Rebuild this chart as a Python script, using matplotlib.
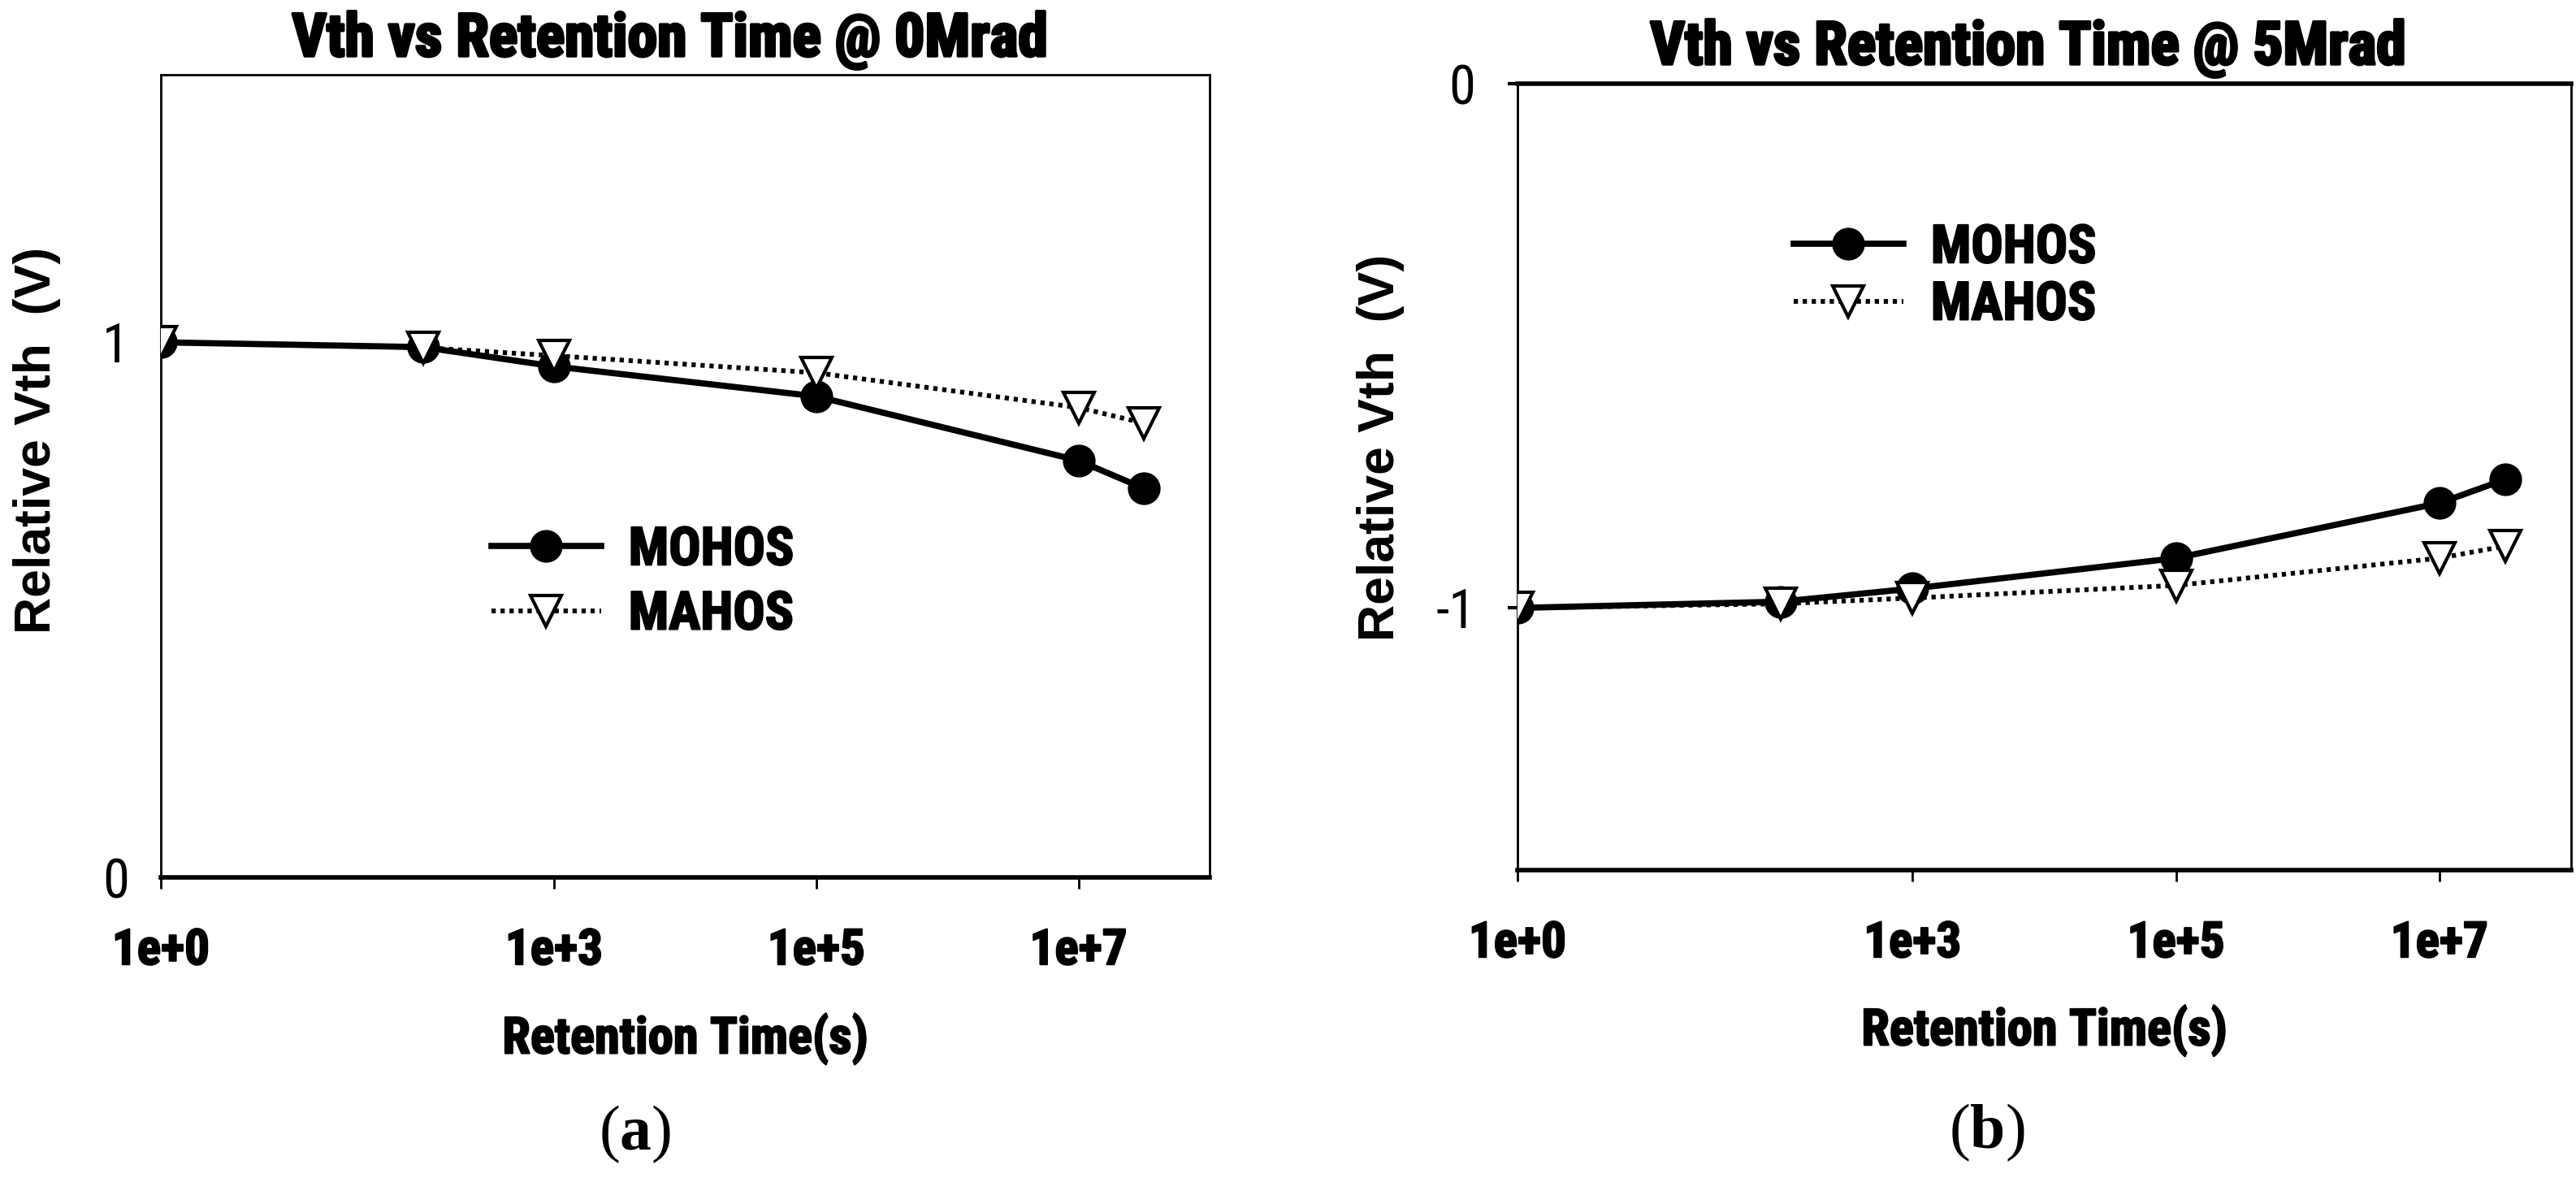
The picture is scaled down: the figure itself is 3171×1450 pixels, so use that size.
import matplotlib
matplotlib.use('Agg')
import matplotlib.pyplot as plt
import matplotlib.patheffects as pe

# datos
tiempo = [1, 1e2, 1e3, 1e5, 1e7, 3.15e7]
mohos_0 = [1.0, 0.991, 0.955, 0.899, 0.779, 0.727]
mahos_0 = [1.0, 0.99, 0.975, 0.943, 0.878, 0.849]
mohos_5 = [-1.0, -0.988, -0.963, -0.905, -0.800, -0.755]
mahos_5 = [-1.0, -0.992, -0.981, -0.957, -0.905, -0.882]

xticks = [1, 1e3, 1e5, 1e7]
xlabels = ['1e+0', '1e+3', '1e+5', '1e+7']

W, H = 3171, 1450
NARROW = ['Roboto Condensed', 'DejaVu Sans']
grueso = [pe.withStroke(linewidth=1.5, foreground='black')]

plt.rcParams['mathtext.fontset'] = 'custom'
plt.rcParams['mathtext.rm'] = 'Liberation Serif'
plt.rcParams['mathtext.bf'] = 'Liberation Serif:bold'

fig = plt.figure(figsize=(W / 100, H / 100), dpi=100)


def caja(x0, y0, x1, y1):
    # pasa pixeles de la imagen a coordenadas de figura
    return [x0 / W, 1 - y1 / H, (x1 - x0) / W, (y1 - y0) / H]


def panel(rect, mohos, mahos, ylim, yticks, ylabels, leg_xy, espacio, ylab_xy, xlab_xy):
    ax = fig.add_axes(rect)
    ax.plot(tiempo, mohos, '-', color='black', lw=5.5, marker='o', ms=28,
            mfc='black', mec='black', label='MOHOS', zorder=3)
    ax.plot(tiempo, mahos, color='black', lw=4.2, ls=(0, (0.9, 1)), marker='v', ms=28,
            mfc='white', mec='black', mew=3, label='MAHOS', zorder=4)
    ax.set_xscale('log')
    ax.set_xlim(1, 1e8)
    ax.set_ylim(*ylim)
    ax.set_xticks(xticks)
    ax.set_xticklabels(xlabels, family=NARROW, fontweight='bold', fontsize=44,
                       path_effects=grueso)
    ax.xaxis.set_minor_locator(matplotlib.ticker.NullLocator())
    ax.set_yticks(yticks)
    ax.set_yticklabels(ylabels, family=NARROW, fontsize=48)
    ax.tick_params(axis='x', direction='out', length=10, width=2, pad=34)
    ax.tick_params(axis='y', direction='out', length=9, width=3, pad=28)
    for s in ['left', 'right', 'top', 'bottom']:
        ax.spines[s].set_linewidth(2)
    ax.spines['bottom'].set_linewidth(4)
    ax.set_ylabel('Relative Vth  (V)', fontfamily='Liberation Sans', fontweight='bold', fontsize=45)
    ax.yaxis.set_label_coords(*ylab_xy)
    ax.yaxis.label.set_va('center')
    ax.set_xlabel('Retention Time(s)', family=NARROW, fontweight='bold', fontsize=45,
                  path_effects=grueso)
    ax.xaxis.set_label_coords(*xlab_xy)
    ax.xaxis.label.set_va('center')
    leg = ax.legend(loc='upper left', bbox_to_anchor=leg_xy, frameon=False,
                    prop={'family': NARROW, 'weight': 'bold', 'size': 47},
                    handlelength=2.07, handletextpad=0.52, labelspacing=espacio,
                    borderpad=0, borderaxespad=0)
    for t in leg.get_texts():
        t.set_path_effects(grueso)
    return ax


ax1 = panel(caja(198, 92, 1489, 1080), mohos_0, mahos_0, (0, 1.5), [0, 1], ['0', '1'],
            (0.315, 0.438), 0.28, (-0.118, 0.545), (0.5, -0.201))
ax1.tick_params(axis='y', length=0)

ax2 = panel(caja(1868, 103, 3165, 1071), mohos_5, mahos_5, (-1.5, 0), [-1, 0], ['-1', '0'],
            (0.262, 0.822), 0.14, (-0.130, 0.537), (0.5, -0.204))
ax2.spines['top'].set_linewidth(4)

titulo = [pe.withStroke(linewidth=2.5, foreground='black')]
fig.text(825 / W, 1 - 69 / H, 'Vth vs Retention Time @ 0Mrad', family=NARROW,
         fontweight='bold', fontsize=53, ha='center', va='baseline', path_effects=titulo)
fig.text(2497 / W, 1 - 79 / H, 'Vth vs Retention Time @ 5Mrad', family=NARROW,
         fontweight='bold', fontsize=53, ha='center', va='baseline', path_effects=titulo)

fig.text(782 / W, 1 - 1396 / H, r'$\mathrm{(}\mathbf{a}\mathrm{)}$', fontsize=56,
         ha='center', va='center')
fig.text(2446 / W, 1 - 1394 / H, r'$\mathrm{(}\mathbf{b}\mathrm{)}$', fontsize=56,
         ha='center', va='center')

plt.savefig('out.png', dpi=100)
